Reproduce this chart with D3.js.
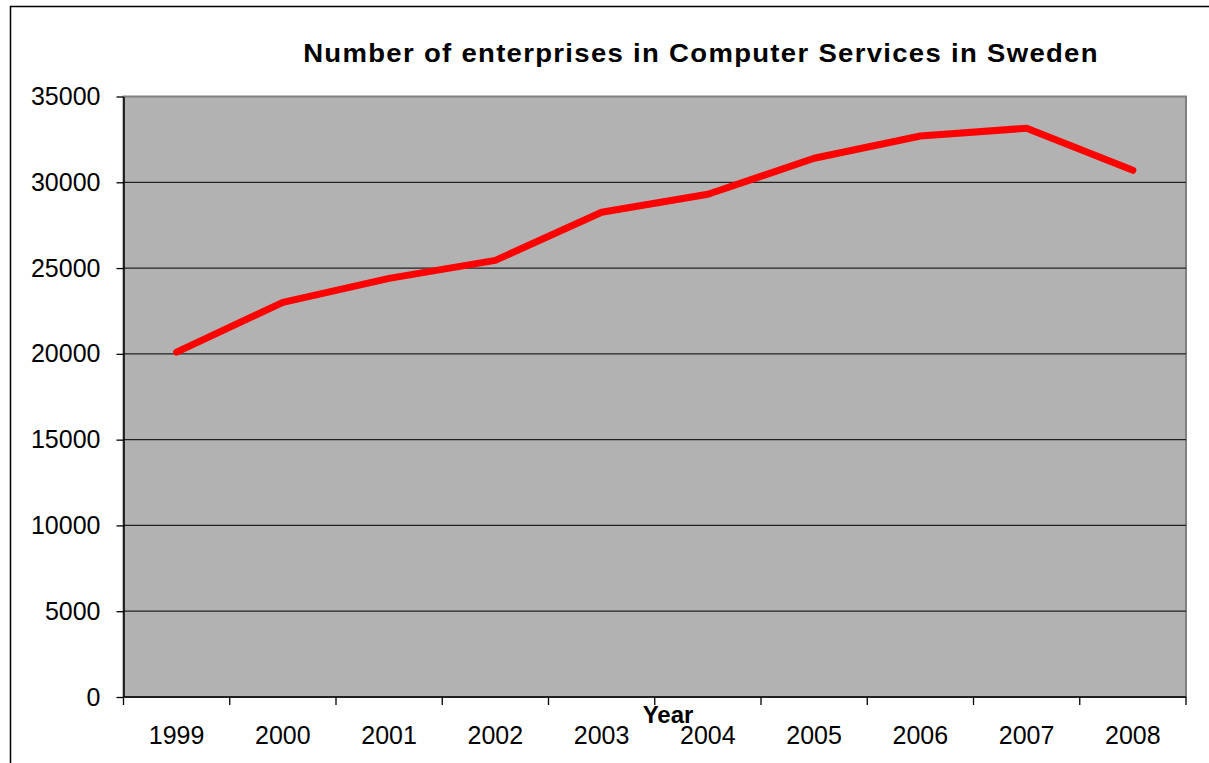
<!DOCTYPE html>
<html lang="en">
<head>
<meta charset="UTF-8">
<title>Number of enterprises in Computer Services in Sweden</title>
<script src="https://d3js.org/d3.v7.min.js"></script>
<style>
    body { margin: 0; background: #fff; }
    text { font-family: "Liberation Sans", Arial, sans-serif; }
</style>
</head>
<body>
<svg></svg>
<script>
    // data
    let years = ["1999", "2000", "2001", "2002", "2003", "2004", "2005", "2006", "2007", "2008"];
    let enterprises = [20100, 23000, 24400, 25450, 28250, 29300, 31400, 32700, 33150, 30700];
    let yTicks = [0, 5000, 10000, 15000, 20000, 25000, 30000, 35000];

    let width = 1209, height = 763;
    let margin = {top: 96.5, right: 23, bottom: 66, left: 123.5};

    let svg = d3.select("svg").attr("width", width).attr("height", height);

    // outer chart frame (runs past the window on right and bottom)
    svg.append("rect")
        .attr("x", 10.5).attr("y", 6.5)
        .attr("width", 1220).attr("height", 800)
        .attr("fill", "#fff").attr("stroke", "#000").attr("stroke-width", 1.5);

    let x = d3.scaleBand().domain(years).range([margin.left, width - margin.right]);
    let y = d3.scaleLinear().domain([0, 35000]).range([height - margin.bottom, margin.top]);

    // plot area
    svg.append("rect")
        .attr("x", margin.left).attr("y", margin.top)
        .attr("width", width - margin.right - margin.left)
        .attr("height", height - margin.bottom - margin.top)
        .attr("fill", "#b2b2b2").attr("stroke", "#808080").attr("stroke-width", 2);

    // gridlines
    svg.append("g").selectAll("line")
        .data(yTicks.slice(1, -1))
        .join("line")
        .attr("x1", margin.left).attr("x2", width - margin.right)
        .attr("y1", d => y(d)).attr("y2", d => y(d))
        .attr("stroke", "#222").attr("stroke-width", 1.3);

    // y axis
    let yAxis = svg.append("g")
        .attr("transform", `translate(${margin.left},0)`)
        .call(d3.axisLeft(y).tickValues(yTicks).tickFormat(d3.format("d"))
            .tickSize(7).tickPadding(16).tickSizeOuter(0));
    yAxis.select(".domain").attr("stroke", "#000").attr("stroke-width", 1.5);
    yAxis.selectAll(".tick line").attr("stroke", "#000").attr("stroke-width", 1.3);
    yAxis.selectAll(".tick text")
        .attr("font-size", 25).attr("fill", "#000")
        .style("font-family", "'Liberation Sans', Arial, sans-serif");

    // x axis: ticks on band boundaries, labels in band centres
    let xAxisG = svg.append("g").attr("transform", `translate(0,${height - margin.bottom})`);
    xAxisG.append("line")
        .attr("x1", margin.left).attr("x2", width - margin.right)
        .attr("stroke", "#000").attr("stroke-width", 1.5);
    let edges = years.map(d => x(d)).concat([x(years[years.length - 1]) + x.bandwidth()]);
    xAxisG.selectAll(".xtick")
        .data(edges)
        .join("line")
        .attr("class", "xtick")
        .attr("x1", d => d).attr("x2", d => d)
        .attr("y1", 0).attr("y2", 8)
        .attr("stroke", "#000").attr("stroke-width", 1.3);
    xAxisG.selectAll(".xlabel")
        .data(years)
        .join("text")
        .attr("class", "xlabel")
        .attr("x", d => x(d) + x.bandwidth() / 2)
        .attr("y", 47)
        .attr("text-anchor", "middle")
        .attr("font-size", 25)
        .text(d => d);

    // axis title
    svg.append("text")
        .attr("x", 668).attr("y", 723)
        .attr("text-anchor", "middle")
        .attr("font-size", 24).attr("font-weight", "bold")
        .text("Year");

    // chart title (slightly wide lettering in the original)
    svg.append("text")
        .attr("transform", "translate(701,62) scale(1.1,1)")
        .attr("text-anchor", "middle")
        .attr("font-size", 25).attr("font-weight", "bold")
        .attr("letter-spacing", 1.2)
        .text("Number of enterprises in Computer Services in Sweden");

    // series line
    let line = d3.line()
        .x((d, i) => x(years[i]) + x.bandwidth() / 2)
        .y(d => y(d));

    svg.append("path")
        .datum(enterprises)
        .attr("d", line)
        .attr("fill", "none")
        .attr("stroke", "#ff0000")
        .attr("stroke-width", 7)
        .attr("stroke-linejoin", "round")
        .attr("stroke-linecap", "round");
</script>
</body>
</html>
